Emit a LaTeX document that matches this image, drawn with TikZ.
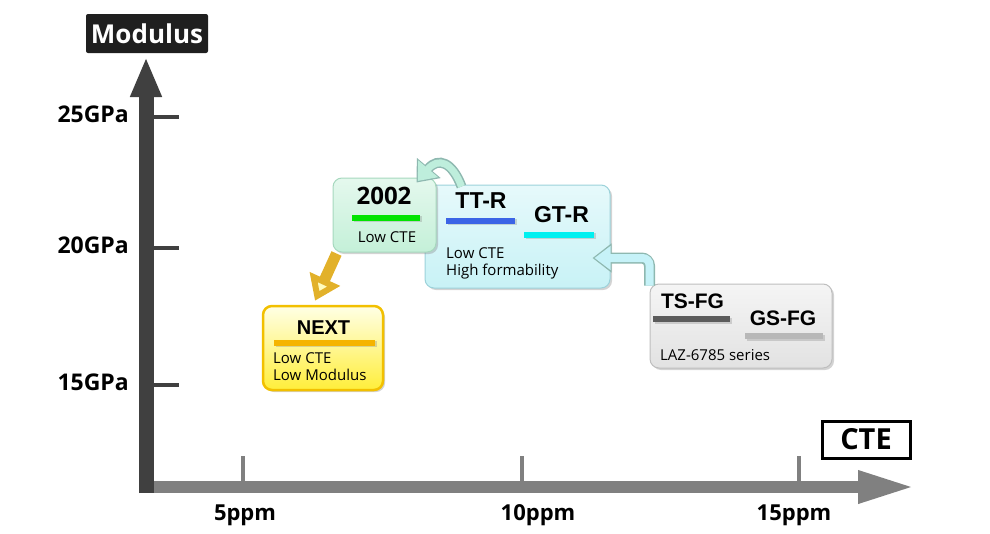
\documentclass[tikz,border=0pt]{standalone}
\usepackage{fontspec}
\setmainfont{Open Sans}
\newfontfamily\namefont{Liberation Sans}
\usetikzlibrary{arrows.meta,shadows,calc}

\definecolor{axisdark}{HTML}{404040}
\definecolor{axisgray}{HTML}{808080}
\definecolor{mint}{HTML}{C4F0D8}
\definecolor{mintedge}{HTML}{A6D8BE}
\definecolor{aqua}{HTML}{C8F2F6}
\definecolor{aquaedge}{HTML}{9CD2DA}
\definecolor{pale}{HTML}{E2E2E2}
\definecolor{paleedge}{HTML}{BEBEBE}
\definecolor{gold}{HTML}{F2C000}
\definecolor{lemon}{HTML}{FFEE3A}
\definecolor{barorange}{HTML}{F5B400}
\definecolor{bargreen}{HTML}{00E400}
\definecolor{barblue}{HTML}{3B64E6}
\definecolor{barcyan}{HTML}{00F0F0}
\definecolor{bardark}{HTML}{5C5C5C}
\definecolor{barlight}{HTML}{B8B8B8}
\definecolor{pipeedge}{HTML}{8EB8B0}
\definecolor{pipemint}{HTML}{BEEEDC}
\definecolor{pipeaqua}{HTML}{C6F2F8}
\definecolor{arrowgold}{HTML}{E2B12A}

\tikzset{
  card/.style={rounded corners=9pt, line width=1pt, inner sep=0pt,
    drop shadow={opacity=0.35, shadow xshift=2pt, shadow yshift=-2pt}},
  barline/.style={minimum height=6pt, inner sep=0pt, fill=#1,
    drop shadow={opacity=0.3, shadow xshift=1.5pt, shadow yshift=-1.5pt}},
  prodlabel/.style={font=\namefont\bfseries\fontsize{23}{26}\selectfont, inner sep=0pt},
  notetext/.style={font=\fontsize{15}{17}\selectfont, inner sep=0pt},
  axislabel/.style={font=\bfseries\fontsize{23}{26}\selectfont, inner sep=0pt},
}

\begin{document}
\begin{tikzpicture}[x=1pt,y=-1pt]
\useasboundingbox (0,0) rectangle (990,533);

% axes
\foreach \x in {243,522,799}
  \draw[axisgray, line width=4pt] (\x,456) -- (\x,493);
\draw[axisgray, line width=12pt, -{Triangle[length=57pt,width=30pt]}] (139,487) -- (915,487);
\draw[axisdark, line width=15pt, -{Triangle[length=40pt,width=29pt]}] (146,493) -- (146,57);
\foreach \y/\v in {117/25,248/20,385/15} {
  \draw[axisdark, line width=4pt] (153,\y) -- (179,\y);
  \node[axislabel, anchor=east] (gpa\v) at (129,\y-3) {\v GPa};
}
\foreach \x/\v in {245/5,538/10,794/15}
  \node[axislabel, font=\bfseries\fontsize{22}{26}\selectfont, anchor=base] (ppm\v) at (\x,520) {\v ppm};

\node[fill=black!88, rounded corners=2pt, text=white, inner sep=0pt,
  minimum width=122pt, minimum height=39pt,
  font=\bfseries\fontsize{26}{28}\selectfont] (modulus) at (147,33.5) {Modulus};
\node[draw=black, line width=3pt, fill=white, inner sep=0pt,
  minimum width=88pt, minimum height=37pt,
  font=\bfseries\fontsize{29}{30}\selectfont] (cte) at (866,439.5) {CTE};

% boxes
\node[card, draw=aquaedge, top color=aqua!45, bottom color=aqua,
  minimum width=185pt, minimum height=103pt] (boxttr) at (517.5,236.5) {};
\node[card, draw=mintedge, top color=mint!45, bottom color=mint,
  minimum width=103pt, minimum height=74pt] (box2002) at (384.5,215) {};
\node[card, draw=gold, line width=2.5pt, top color=white!90!yellow, bottom color=lemon,
  minimum width=120pt, minimum height=84pt] (boxnext) at (323,348) {};
\node[card, draw=paleedge, top color=pale!35, bottom color=pale,
  minimum width=182pt, minimum height=84pt] (boxtsfg) at (741,326) {};

\node[axislabel, font=\bfseries\fontsize{24}{26}\selectfont] (t2002) at (384,196) {2002};
\node[barline=bargreen, minimum width=68pt] (b2002) at (386,217.5) {};
\node[notetext, anchor=base] (n2002) at (387,242) {Low CTE};

\node[prodlabel] (tttr) at (481,201) {TT-R};
\node[barline=barblue, minimum width=69pt] (bttr) at (480.5,220.5) {};
\node[prodlabel] (tgtr) at (561.5,215) {GT-R};
\node[barline=barcyan, minimum width=70pt] (bgtr) at (559,234.5) {};
\node[notetext, anchor=base west] (nttr1) at (446,258) {Low CTE};
\node[notetext, anchor=base west] (nttr2) at (446,275) {High formability};

\node[prodlabel, font=\namefont\bfseries\fontsize{20}{24}\selectfont] (tnext) at (323.5,327.5) {NEXT};
\node[barline=barorange, minimum width=101pt] (bnext) at (324.5,342.5) {};
\node[notetext, anchor=base west] (nnext1) at (273,363) {Low CTE};
\node[notetext, anchor=base west] (nnext2) at (273,380) {Low Modulus};

\node[prodlabel, font=\namefont\bfseries\fontsize{21}{24}\selectfont] (ttsfg) at (692.5,301.5) {TS-FG};
\node[barline=bardark, minimum width=77pt] (btsfg) at (691.5,319) {};
\node[prodlabel, font=\namefont\bfseries\fontsize{21}{24}\selectfont] (tgsfg) at (783,318.5) {GS-FG};
\node[barline=barlight, minimum width=78pt] (bgsfg) at (784,336) {};
\node[notetext, anchor=base west] (ntsfg) at (660,360) {LAZ-6785 series};

% arrows
\coordinate (from1) at ($(boxttr.north west)+(37,2)$);
\coordinate (to1) at ($(box2002.north east)+(-20,5)$);
\draw[pipeedge, line width=10pt, -{Triangle[length=19pt,width=30pt]}]
  (from1) .. controls +(-9,-24) and +(22,-26) .. (to1);
\draw[pipemint, line width=7pt, shorten >=2pt, -{Triangle[length=16pt,width=25pt]}]
  (from1) .. controls +(-9,-24) and +(22,-26) .. (to1);

\coordinate (from2) at ($(boxtsfg.north west)+(0,2)$);
\coordinate (to2) at ($(boxttr.east)+(-18,21.5)$);
\draw[pipeedge, line width=11pt, rounded corners=8pt, -{Triangle[length=19pt,width=28pt]}]
  (from2) |- (to2);
\draw[pipeaqua, line width=8pt, rounded corners=7pt, shorten >=2pt, -{Triangle[length=16pt,width=23pt]}]
  (from2) |- (to2);

\draw[arrowgold, line width=11pt, -{Triangle[length=24pt,width=32pt,fill=yellow!25!white]}]
  ($(box2002.south west)+(4,1)$) -- ($(boxnext.north)+(-8,-4)$);
\end{tikzpicture}
\end{document}
